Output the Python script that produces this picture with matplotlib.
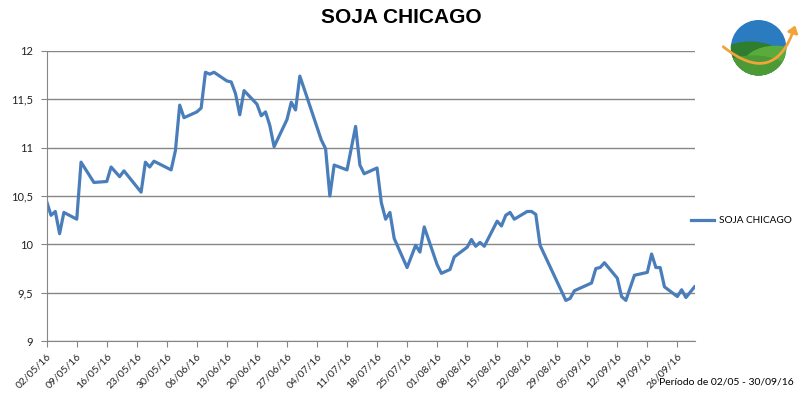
from datetime import datetime, timedelta

import matplotlib
matplotlib.use("Agg")
import matplotlib.pyplot as plt
import matplotlib.dates as mdates
from matplotlib.patches import Circle, Ellipse, FancyArrowPatch, Rectangle
from matplotlib.ticker import FuncFormatter, MultipleLocator

plt.rcParams["font.family"] = ["Lato", "DejaVu Sans"]

# trading days (dd/mm, 2016) and price
dates = [
    "02/05", "03/05", "04/05", "05/05", "06/05", "09/05", "10/05", "13/05",
    "16/05", "17/05", "19/05", "20/05", "24/05", "25/05", "26/05", "27/05",
    "31/05", "01/06", "02/06", "03/06", "06/06", "07/06", "08/06", "09/06",
    "10/06", "13/06", "14/06", "15/06", "16/06", "17/06", "20/06", "21/06",
    "22/06", "23/06", "24/06", "27/06", "28/06", "29/06", "30/06", "01/07",
    "05/07", "06/07", "07/07", "08/07", "11/07", "13/07", "14/07", "15/07",
    "18/07", "19/07", "20/07", "21/07", "22/07", "25/07", "27/07", "28/07",
    "29/07", "01/08", "02/08", "04/08", "05/08", "08/08", "09/08", "10/08",
    "11/08", "12/08", "15/08", "16/08", "17/08", "18/08", "19/08", "22/08",
    "23/08", "24/08", "25/08", "31/08", "01/09", "02/09", "06/09", "07/09",
    "08/09", "09/09", "12/09", "13/09", "14/09", "16/09", "19/09", "20/09",
    "21/09", "22/09", "23/09", "26/09", "27/09", "28/09", "30/09",
]
soja = [
    10.44, 10.30, 10.34, 10.11, 10.33, 10.26, 10.85, 10.64,
    10.65, 10.80, 10.70, 10.76, 10.54, 10.85, 10.80, 10.86,
    10.77, 10.97, 11.44, 11.31, 11.37, 11.41, 11.78, 11.76,
    11.78, 11.69, 11.68, 11.56, 11.34, 11.59, 11.45, 11.33,
    11.37, 11.23, 11.01, 11.29, 11.47, 11.39, 11.74, 11.61,
    11.08, 10.99, 10.50, 10.82, 10.77, 11.22, 10.82, 10.73,
    10.79, 10.43, 10.26, 10.33, 10.06, 9.76, 9.99, 9.92,
    10.18, 9.79, 9.70, 9.74, 9.87, 9.97, 10.05, 9.98,
    10.02, 9.98, 10.24, 10.19, 10.30, 10.33, 10.26, 10.34,
    10.34, 10.31, 9.99, 9.42, 9.44, 9.52, 9.60, 9.75,
    9.76, 9.81, 9.65, 9.46, 9.42, 9.68, 9.71, 9.90,
    9.76, 9.76, 9.56, 9.46, 9.53, 9.45, 9.56,
]

x = [datetime.strptime(d + "/2016", "%d/%m/%Y") for d in dates]
start = datetime(2016, 5, 2)
end = datetime(2016, 9, 30)

fig = plt.figure(figsize=(8.07, 3.98), dpi=100)
ax = fig.add_axes([0.0579, 0.1432, 0.8027, 0.7287])

ax.plot(x, soja, color="#4A7EBB", linewidth=2.3, label="SOJA CHICAGO",
        solid_joinstyle="round")

ax.set_xlim(start, end)
ax.set_ylim(9, 12)
ax.yaxis.set_major_locator(MultipleLocator(0.5))
ax.yaxis.set_major_formatter(FuncFormatter(lambda v, _: f"{v:g}".replace(".", ",")))

weeks = [start + timedelta(days=7 * i) for i in range(22)]
ax.set_xticks(weeks)
ax.xaxis.set_major_formatter(mdates.DateFormatter("%d/%m/%y"))
for lbl in ax.get_xticklabels():
    lbl.set_rotation(45)
    lbl.set_ha("right")
    lbl.set_rotation_mode("anchor")
    lbl.set_fontsize(7.5)

ax.grid(axis="y", color="#868686", linewidth=1.0)
ax.set_axisbelow(True)
for side in ("top", "right"):
    ax.spines[side].set_visible(False)
for side in ("left", "bottom"):
    ax.spines[side].set_color("#868686")
ax.tick_params(axis="both", colors="#868686", labelcolor="#222222",
               length=4, direction="out")
ax.tick_params(axis="y", pad=6, labelsize=8)

ax.legend(loc="center left", bbox_to_anchor=(0.98, 0.414), frameon=False,
          fontsize=7.2, handlelength=2.3, handletextpad=0.5)

fig.text(0.497, 0.955, "SOJA CHICAGO", ha="center", va="center",
         fontsize=15, fontweight="bold", family=["Liberation Sans", "DejaVu Sans"])
fig.text(0.983, 0.04, "Período de 02/05 - 30/09/16", ha="right", va="center",
         fontsize=7.5)

# small logo, top right
logo = fig.add_axes([0.885, 0.77, 0.11, 0.22])
logo.set_xlim(-1.6, 1.6)
logo.set_ylim(-1.5, 1.5)
logo.set_aspect("equal")
logo.axis("off")
globe = Circle((0, 0), 1.0, transform=logo.transData)
sky = Rectangle((-1.1, -1.1), 2.2, 2.2, color="#2a7bbf")
logo.add_patch(sky)
sky.set_clip_path(globe)
for cx, cy, w, h, col in [(-0.3, -0.55, 2.6, 1.5, "#2f7d2f"),
                          (0.6, -0.75, 2.4, 1.6, "#5bab3c"),
                          (-0.2, -1.0, 2.8, 1.4, "#4c9a36")]:
    hill = Ellipse((cx, cy), w, h, color=col)
    logo.add_patch(hill)
    hill.set_clip_path(globe)
logo.add_patch(FancyArrowPatch((-1.35, 0.1), (1.35, 0.9),
                               connectionstyle="arc3,rad=0.75",
                               arrowstyle="-|>,head_length=4,head_width=3",
                               color="#f0a43a", linewidth=2.0))

fig.savefig("out.png", dpi=100)
